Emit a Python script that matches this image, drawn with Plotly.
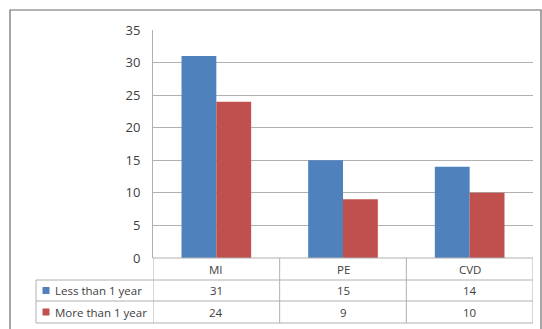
import plotly.graph_objects as go

# Data
categories = ["MI", "PE", "CVD"]
series_names = ["Less than 1 year", "More than 1 year"]
less_than_1y = [31, 15, 14]
more_than_1y = [24, 9, 10]
y_ticks = [0, 5, 10, 15, 20, 25, 30, 35]

colors = ["#4F81BD", "#C0504D"]
series_values = [less_than_1y, more_than_1y]

W, H = 542, 329
L, R, T, B = 153, 9, 30, 71
PW, PH = W - L - R, H - T - B


def px_x(x):
    return (x - L) / PW


def px_y(y):
    return (H - B - y) / PH


FONT = "Open Sans"
TXT = "#404040"
LINE = "#b0b0b0"

fig = go.Figure()
for name, vals, c in zip(series_names, series_values, colors):
    fig.add_trace(go.Bar(x=categories, y=vals, name=name, marker_color=c,
                         marker_line_width=0, showlegend=False))

shapes = []
annotations = []

# Outer chart border
shapes.append(dict(type="rect", xref="paper", yref="paper",
                   x0=px_x(10), x1=px_x(541), y0=px_y(340), y1=px_y(10),
                   line=dict(color="#6a6a6a", width=1.2), layer="below"))

# Data table grid
row_edges = [258, 280, 301, 323]
n = len(categories)
for yb in row_edges[1:]:
    shapes.append(dict(type="line", xref="paper", yref="paper",
                       x0=px_x(36), x1=1, y0=px_y(yb), y1=px_y(yb),
                       line=dict(color=LINE, width=1)))
# vertical separators between categories and the table edges
for i in range(n + 1):
    xv = i - 0.5
    shapes.append(dict(type="line", xref="x", yref="paper",
                       x0=xv, x1=xv, y0=px_y(258), y1=px_y(323),
                       line=dict(color=LINE, width=1)))
# legend column left edge
shapes.append(dict(type="line", xref="paper", yref="paper",
                   x0=px_x(36), x1=px_x(36), y0=px_y(280), y1=px_y(323),
                   line=dict(color=LINE, width=1)))
# x axis / table top
shapes.append(dict(type="line", xref="paper", yref="paper",
                   x0=0, x1=1, y0=px_y(258), y1=px_y(258),
                   line=dict(color=LINE, width=1)))

# category header row
for cat in categories:
    annotations.append(dict(x=cat, xref="x", yref="paper", y=px_y(269),
                            xanchor="center", yanchor="middle",
                            text=cat, showarrow=False,
                            font=dict(family=FONT, size=11.5, color=TXT)))

# series rows
row_centers = [290.5, 312]
for r, (name, vals, c) in enumerate(zip(series_names, series_values, colors)):
    yc = row_centers[r]
    shapes.append(dict(type="rect", xref="paper", yref="paper",
                       x0=px_x(42.5), x1=px_x(49.5),
                       y0=px_y(yc - 3.5), y1=px_y(yc + 3.5),
                       fillcolor=c, line=dict(width=0)))
    annotations.append(dict(x=px_x(53), xref="paper", yref="paper", y=px_y(yc),
                            text=name, showarrow=False,
                            xanchor="left", yanchor="middle",
                            font=dict(family=FONT, size=11.5, color=TXT)))
    for cat, v in zip(categories, vals):
        annotations.append(dict(x=cat, xref="x", yref="paper", y=px_y(yc),
                                xanchor="center", yanchor="middle",
                                text=str(v), showarrow=False,
                                font=dict(family=FONT, size=11.5, color=TXT)))

fig.update_layout(
    width=W, height=H,
    margin=dict(l=L, r=R, t=T, b=B, pad=0),
    paper_bgcolor="white", plot_bgcolor="white",
    barmode="group", bargap=0.45, bargroupgap=0,
    shapes=shapes, annotations=annotations,
    xaxis=dict(range=[-0.5, n - 0.5], showticklabels=False, showgrid=False,
               zeroline=False, showline=False, ticks=""),
    yaxis=dict(range=[0, 35], tickvals=y_ticks, showgrid=True,
               gridcolor=LINE, gridwidth=1, zeroline=False,
               showline=True, linecolor=LINE, linewidth=1, ticks="",
               ticklabelstandoff=9,
               tickfont=dict(family=FONT, size=13, color=TXT)),
)

fig.write_html("out.html")
